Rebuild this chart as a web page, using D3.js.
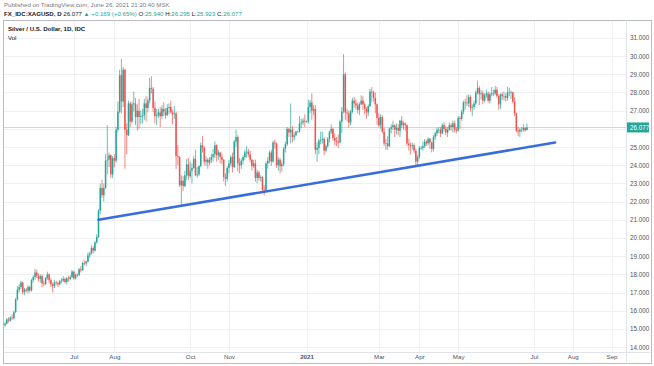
<!DOCTYPE html>
<html>
<head>
<meta charset="utf-8">
<script src="https://cdn.jsdelivr.net/npm/d3@7"></script>
<style>
body { margin: 0; background: #fff; }
svg { display: block; font-family: "Liberation Sans", Arial, sans-serif; }
</style>
</head>
<body>
<div id="main"></div>
<script>
//////////
// DATA //
//////////

// daily candles [open, high, low, close], one trading day per row, starting on firstDate
const firstDate = "2020-05-07"

const bars_2020_05 = [
  [15.20,15.40,15.12,15.30],[15.30,15.60,15.25,15.52],[15.52,15.65,15.35,15.45],[15.45,15.70,15.40,15.62],[15.62,15.80,15.50,15.58],
  [15.58,16.00,15.52,15.92],[15.92,16.70,15.88,16.62],[16.62,17.35,16.55,17.15],[17.15,17.45,17.00,17.30],[17.30,17.65,17.20,17.55],
  [17.55,17.60,16.90,17.02],[17.02,17.25,16.85,17.16],[17.16,17.25,17.00,17.10],[17.10,17.40,16.95,17.30],[17.30,17.38,17.00,17.12],
  [17.12,17.75,17.05,17.68],[17.68,17.95,17.55,17.85]
]
const bars_2020_06 = [
  [17.85,18.30,17.70,18.10],[18.10,18.25,17.80,17.92],[17.92,18.05,17.60,17.75],[17.75,18.00,17.55,17.90],[17.90,18.00,17.30,17.50],
  [17.50,17.65,17.35,17.48],[17.48,17.85,17.40,17.80],[17.80,18.15,17.70,18.00],[18.00,18.05,17.50,17.68],[17.68,17.80,17.30,17.45],
  [17.45,17.55,17.00,17.35],[17.35,17.70,17.25,17.55],[17.55,17.65,17.40,17.52],[17.52,17.60,17.30,17.45],[17.45,17.70,17.40,17.62],
  [17.62,17.80,17.50,17.65],[17.65,17.90,17.58,17.75],[17.75,17.82,17.50,17.58],[17.58,17.85,17.45,17.78],[17.78,17.92,17.60,17.75],
  [17.75,17.95,17.68,17.85],[17.85,18.25,17.80,18.15]
]
const bars_2020_07 = [
  [18.15,18.20,17.70,17.78],[17.78,18.05,17.72,17.98],[17.98,18.05,17.85,17.96],[17.96,18.35,17.90,18.28],[18.28,18.45,18.10,18.22],
  [18.22,18.70,18.20,18.62],[18.62,18.80,18.50,18.60],[18.60,18.75,18.45,18.70],[18.70,19.20,18.65,19.05],[19.05,19.25,18.90,19.15],
  [19.15,19.60,19.10,19.45],[19.45,19.55,19.15,19.30],[19.30,19.85,19.25,19.75],[19.75,20.20,19.70,20.05],[20.05,21.60,20.00,21.50],
  [21.50,23.00,21.30,22.75],[22.75,23.20,22.20,22.35],[22.35,23.00,22.00,22.75],[22.75,24.60,22.70,24.25],[24.25,26.20,23.50,24.30],
  [24.30,24.70,23.90,24.55],[24.55,24.60,23.30,23.50],[23.50,24.50,23.30,24.40]
]
const bars_2020_08 = [
  [24.40,24.60,23.90,24.25],[24.25,26.10,24.15,25.95],[25.95,27.50,25.80,26.95],[26.95,29.25,26.85,28.95],[28.95,29.85,26.85,27.50],
  [27.50,29.40,27.20,29.25],[29.25,29.30,23.80,25.95],[25.95,26.30,24.60,25.65],[25.65,27.55,25.60,27.40],[27.40,27.50,26.10,26.40],
  [26.40,27.50,26.30,27.35],[27.35,28.05,26.95,27.40],[27.40,27.70,26.20,26.65],[26.65,27.35,25.90,27.00],[27.00,27.65,26.00,26.65],
  [26.65,27.00,26.25,26.70],[26.70,27.10,26.30,26.75],[26.75,27.65,26.50,27.40],[27.40,27.80,26.40,27.15],[27.15,27.70,26.90,27.55],
  [27.55,28.80,27.40,28.25]
]
const bars_2020_09 = [
  [28.25,28.90,27.95,28.20],[28.20,28.30,26.90,27.15],[27.15,27.50,26.30,26.70],[26.70,27.10,26.20,26.75],[26.75,27.10,26.60,26.90],
  [26.90,27.20,26.10,26.70],[26.70,27.30,26.55,27.10],[27.10,27.45,26.70,26.95],[26.95,27.15,26.55,26.75],[26.75,27.35,26.70,27.15],
  [27.15,27.40,26.80,27.20],[27.20,27.55,26.85,26.90],[26.90,27.05,26.25,26.80],[26.80,27.25,26.55,26.85],[26.85,26.95,23.80,24.50],
  [24.50,25.10,24.00,24.45],[24.45,24.50,22.80,22.90],[22.90,23.45,21.80,23.15],[23.15,23.40,22.60,22.85],[22.85,23.70,22.80,23.45],
  [23.45,24.35,23.20,24.05],[24.05,24.40,23.20,23.40]
]
const bars_2020_10 = [
  [23.40,24.20,23.30,23.70],[23.70,24.10,23.00,23.85],[23.85,24.50,23.80,24.35],[24.35,24.85,23.40,23.45],[23.45,23.90,23.30,23.50],
  [23.50,24.00,23.40,23.95],[23.95,25.25,23.90,25.10],[25.10,25.60,24.70,24.95],[24.95,25.05,24.00,24.20],[24.20,24.50,23.95,24.30],
  [24.30,24.40,23.80,24.15],[24.15,24.45,24.00,24.30],[24.30,24.65,24.10,24.45],[24.45,24.90,24.20,24.60],[24.60,25.30,24.40,25.10],
  [25.10,25.15,24.20,24.55],[24.55,24.85,24.30,24.70],[24.70,24.75,24.10,24.45],[24.45,24.65,24.05,24.30],[24.30,24.35,23.10,23.35],
  [23.35,23.55,22.85,23.25],[23.25,23.95,23.10,23.85]
]
const bars_2020_11 = [
  [23.85,24.30,23.55,24.10],[24.10,24.55,23.95,24.45],[24.45,24.70,23.60,23.90],[23.90,25.40,23.85,25.30],[25.30,25.95,25.00,25.55],
  [25.55,25.65,23.65,24.10],[24.10,24.40,23.55,24.00],[24.00,24.35,23.80,24.25],[24.25,24.55,24.05,24.45],[24.45,24.85,24.30,24.70],
  [24.70,25.05,24.40,24.75],[24.75,24.90,24.45,24.60],[24.60,24.80,24.15,24.30],[24.30,24.35,23.70,23.95],[23.95,24.30,23.85,24.10],
  [24.10,24.30,23.10,23.30],[23.30,23.75,23.00,23.60],[23.60,23.70,23.15,23.30],[23.30,23.45,23.10,23.35],[23.35,23.40,22.55,22.65],
  [22.65,22.90,22.35,22.60]
]
const bars_2020_12 = [
  [22.60,24.20,22.55,24.10],[24.10,24.45,23.80,24.25],[24.25,24.80,24.10,24.70],[24.70,24.85,23.95,24.20],[24.20,25.35,24.15,25.25],
  [25.25,25.40,24.90,25.20],[25.20,25.25,23.85,24.00],[24.00,24.45,23.70,24.30],[24.30,24.40,23.55,23.95],[23.95,24.20,23.65,24.05],
  [24.05,25.00,23.95,24.90],[24.90,25.30,24.70,25.15],[25.15,26.10,25.05,26.00],[26.00,26.05,25.55,25.80],[25.80,27.40,25.20,25.95],
  [25.95,26.15,25.25,25.55],[25.55,25.80,25.35,25.65],[25.65,25.90,25.60,25.85],[25.85,25.90,25.80,25.85],[25.85,26.70,25.80,26.30],
  [26.30,26.55,26.05,26.35],[26.35,26.60,26.20,26.45],[26.45,26.80,26.10,26.40]
]
const bars_2021_01 = [
  [26.40,26.45,26.35,26.40],[26.40,27.60,26.30,27.20],[27.20,27.60,26.85,27.45],[27.45,27.95,26.50,27.00],[27.00,27.30,26.75,27.10],
  [27.10,27.30,24.60,24.85],[24.85,25.25,24.20,24.95],[24.95,25.45,24.60,25.35],[25.35,25.85,25.15,25.40],[25.40,25.85,25.20,25.45],
  [25.45,25.55,24.55,24.80],[24.80,25.15,24.70,25.05],[25.05,25.55,24.95,25.45],[25.45,25.90,25.25,25.85],[25.85,26.25,25.70,26.00],
  [26.00,26.05,25.35,25.50],[25.50,25.75,25.10,25.35],[25.35,25.55,25.05,25.30],[25.30,25.70,24.95,25.25],[25.25,26.50,25.20,26.40],
  [26.40,27.20,25.75,26.95]
]
const bars_2021_02 = [
  [26.95,30.10,26.85,29.00],[29.00,29.10,26.50,26.90],[26.90,27.10,26.40,26.85],[26.85,27.00,26.05,26.35],[26.35,27.05,26.20,26.95],
  [26.95,27.70,26.85,27.55],[27.55,27.75,27.15,27.40],[27.40,27.65,27.05,27.30],[27.30,27.45,26.85,27.05],[27.05,27.45,26.75,27.35],
  [27.35,27.85,27.30,27.55],[27.55,27.80,27.05,27.35],[27.35,27.45,26.80,27.10],[27.10,27.20,26.55,26.90],[26.90,27.35,26.70,27.25],
  [27.25,28.20,27.20,28.05],[28.05,28.30,27.45,28.00],[28.00,28.10,27.50,27.70],[27.70,28.00,26.85,27.35],[27.35,27.40,26.20,26.60]
]
const bars_2021_03 = [
  [26.60,26.85,26.10,26.20],[26.20,26.80,26.00,26.65],[26.65,26.75,25.75,25.85],[25.85,26.05,25.05,25.20],[25.20,25.45,24.85,25.20],
  [25.20,25.60,24.85,25.05],[25.05,26.05,25.00,26.00],[26.00,26.25,25.75,26.10],[26.10,26.45,25.95,26.20],[26.20,26.25,25.55,25.95],
  [25.95,26.30,25.70,26.05],[26.05,26.25,25.65,25.90],[25.90,26.50,25.55,26.45],[26.45,26.70,26.05,26.20],[26.20,26.40,25.95,26.30],
  [26.30,26.35,25.90,26.20],[26.20,26.25,25.05,25.20],[25.20,25.45,24.80,25.10],[25.10,25.25,24.60,25.05],[25.05,25.25,24.85,25.10],
  [25.10,25.20,24.65,24.80],[24.80,24.90,23.90,24.20],[24.20,24.55,23.95,24.45]
]
const bars_2021_04 = [
  [24.45,25.05,24.35,24.95],[24.95,25.05,24.85,24.95],[24.95,25.30,24.80,25.05],[25.05,25.45,24.95,25.30],[25.30,25.40,25.05,25.20],
  [25.20,25.55,25.10,25.45],[25.45,25.50,24.90,25.25],[25.25,25.30,24.70,24.90],[24.90,25.65,24.75,25.55],[25.55,25.85,25.40,25.75],
  [25.75,26.05,25.60,25.95],[25.95,26.10,25.75,25.95],[25.95,26.10,25.55,25.75],[25.75,26.30,25.70,26.20],[26.20,26.35,25.85,26.00],
  [26.00,26.15,25.65,25.80],[25.80,26.10,25.55,25.95],[25.95,26.35,25.90,26.20],[26.20,26.30,25.90,26.10],[26.10,26.45,25.80,26.30],
  [26.30,26.45,25.80,25.95],[25.95,26.10,25.75,25.90]
]
const bars_2021_05 = [
  [25.90,26.70,25.85,26.60],[26.60,26.70,26.00,26.55],[26.55,27.05,26.45,26.95],[26.95,27.55,26.80,27.45],[27.45,27.65,27.05,27.45],
  [27.45,27.85,27.25,27.40],[27.40,27.90,27.20,27.75],[27.75,27.85,26.95,27.15],[27.15,27.35,26.70,27.20],[27.20,27.55,27.05,27.40],
  [27.40,28.10,27.30,28.00],[28.00,28.65,27.90,28.25],[28.25,28.35,27.30,27.90],[27.90,28.15,27.60,27.95],[27.95,28.10,27.35,27.55],
  [27.55,27.95,27.45,27.85],[27.85,28.15,27.70,27.95],[27.95,28.05,27.45,27.55],[27.55,28.00,27.40,27.90],[27.90,28.30,27.80,27.95],
  [27.95,28.15,27.80,27.95]
]
const bars_2021_06 = [
  [27.95,28.35,27.85,28.15],[28.15,28.30,27.70,27.80],[27.80,27.90,27.05,27.35],[27.35,27.95,27.10,27.90],[27.90,28.00,27.60,27.80],
  [27.80,28.05,27.55,27.80],[27.80,27.95,27.50,27.70],[27.70,28.30,27.55,28.00],[28.00,28.25,27.80,28.00],[28.00,28.10,27.65,28.00],
  [28.00,28.05,27.40,27.50],[27.50,27.75,26.70,26.85],[26.85,26.90,25.80,25.90],[25.90,26.10,25.60,25.85],[25.85,26.05,25.55,25.95],
  [25.95,26.10,25.80,25.95],[25.95,26.25,25.85,26.05],[26.05,26.10,25.85,25.908],[25.940,26.295,25.923,26.077]
]

// price axis: grid on every dollar, the 26 label is covered by the last-price tag
const priceGrid = [14, 15, 16, 17, 18, 19, 20, 21, 22, 23, 24, 25, 26, 27, 28, 29, 30, 31]
const priceLabels = [14, 15, 16, 17, 18, 19, 20, 21, 22, 23, 24, 25, 27, 28, 29, 30, 31]
const lastPrice = 26.077

// time axis (first trading day of each labelled month)
const monthTickDates = ["2020-07-01", "2020-08-03", "2020-10-01", "2020-11-02", "2021-01-01", "2021-03-01",
                        "2021-04-01", "2021-05-03", "2021-07-01", "2021-08-02", "2021-09-01"]
const monthTickLabels = ["Jul", "Aug", "Oct", "Nov", "2021", "Mar", "Apr", "May", "Jul", "Aug", "Sep"]

// drawn trend line anchors
const trendDates = ["2020-07-21", "2021-07-19"]
const trendPrices = [21.0, 25.25]

const headerLine1 = "Published on TradingView.com, June 26, 2021 21:20:40 MSK"
const symbolName = "FX_IDC:XAGUSD, D"
const changeText = "\u25B2 +0.169 (+0.65%)"
const ohlcLabels = ["O:", "H:", "L:", "C:"]
const ohlcValues = ["25.940", "26.295", "25.923", "26.077"]
const paneTitle = "Silver / U.S. Dollar, 1D, IDC"


///////////
// SETUP //
///////////

const width = 654
const height = 366

const upColor = '#26a69a'
const downColor = '#ef5350'
const textDark = '#131722'
const textGray = '#50535e'
const gridColor = '#eef0f4'
const trendColor = '#3a6ddc'

const plot = {left: 4, right: 626, top: 21, bottom: 352}

let candles = [].concat(bars_2020_05, bars_2020_06, bars_2020_07, bars_2020_08, bars_2020_09, bars_2020_10,
  bars_2020_11, bars_2020_12, bars_2021_01, bars_2021_02, bars_2021_03, bars_2021_04, bars_2021_05, bars_2021_06)

// weekday calendar, running on past the last candle for the empty future space
let parse = d3.utcParse("%Y-%m-%d")
let fmt = d3.utcFormat("%Y-%m-%d")
let start = parse(firstDate)
let days = d3.utcDay.range(start, d3.utcDay.offset(start, 520)).filter(d => d.getUTCDay() % 6 != 0)
let dayIndex = new Map(days.map((d, i) => [fmt(d), i]))

let x = d3.scaleLinear()
  .domain([-0.6, 352.2])
  .range([plot.left, plot.right])

let y = d3.scaleLinear()
  .domain([13.73, 31.93])
  .range([plot.bottom, plot.top])


//////////
// DRAW //
//////////

let svg = d3.select("#main").append("svg")
  .attr("width", width)
  .attr("height", height)

svg.append("rect").attr("width", width).attr("height", height).attr("fill", "#fff")

svg.append("defs").append("clipPath").attr("id", "plotclip")
  .append("rect")
    .attr("x", plot.left).attr("y", plot.top)
    .attr("width", plot.right - plot.left).attr("height", plot.bottom - plot.top)

// grid
let grid = svg.append("g").attr("clip-path", "url(#plotclip)")
grid.selectAll("line.h").data(priceGrid).enter().append("line")
  .attr("x1", plot.left).attr("x2", plot.right)
  .attr("y1", d => Math.round(y(d)) + 0.5).attr("y2", d => Math.round(y(d)) + 0.5)
  .attr("stroke", gridColor)
grid.selectAll("line.v").data(monthTickDates).enter().append("line")
  .attr("x1", d => Math.round(x(dayIndex.get(d))) + 0.5).attr("x2", d => Math.round(x(dayIndex.get(d))) + 0.5)
  .attr("y1", plot.top).attr("y2", plot.bottom)
  .attr("stroke", gridColor)

// last price line
svg.append("line")
  .attr("x1", plot.left).attr("x2", plot.right)
  .attr("y1", Math.round(y(lastPrice)) + 0.5).attr("y2", Math.round(y(lastPrice)) + 0.5)
  .attr("stroke", "#ccd9d7")

// candles
let cg = svg.append("g").attr("clip-path", "url(#plotclip)")
let candle = cg.selectAll("g.candle").data(candles).enter().append("g")
  .attr("class", "candle")
  .attr("fill", d => d[3] >= d[0] ? upColor : downColor)
  .attr("stroke", d => d[3] >= d[0] ? upColor : downColor)

candle.append("line")
  .attr("x1", (d, i) => x(i)).attr("x2", (d, i) => x(i))
  .attr("y1", d => y(d[1])).attr("y2", d => y(d[2]))
  .attr("stroke-width", 0.7)
candle.append("rect")
  .attr("x", (d, i) => x(i) - 0.75)
  .attr("width", 1.5)
  .attr("y", d => y(Math.max(d[0], d[3])))
  .attr("height", d => Math.max(0.6, Math.abs(y(d[0]) - y(d[3]))))
  .attr("stroke", "none")

// trend line
svg.append("line")
  .attr("x1", x(dayIndex.get(trendDates[0]))).attr("y1", y(trendPrices[0]))
  .attr("x2", x(dayIndex.get(trendDates[1]))).attr("y2", y(trendPrices[1]))
  .attr("stroke", trendColor)
  .attr("stroke-width", 2.5)
  .attr("stroke-linecap", "round")

// frame
svg.append("rect")
  .attr("x", 3.5).attr("y", 20.5).attr("width", 648).attr("height", 343)
  .attr("fill", "none").attr("stroke", "#b9bcc4")
svg.append("line")
  .attr("x1", plot.right + 0.5).attr("x2", plot.right + 0.5).attr("y1", 20.5).attr("y2", 363.5)
  .attr("stroke", "#e0e3eb")
svg.append("line")
  .attr("x1", 3.5).attr("x2", 651.5).attr("y1", plot.bottom + 0.5).attr("y2", plot.bottom + 0.5)
  .attr("stroke", "#e0e3eb")

// price axis
let yAxis = svg.append("g")
  .attr("transform", `translate(${plot.right + 4},0)`)
  .call(d3.axisRight(y).tickValues(priceLabels).tickFormat(d3.format(".3f")).tickSize(0).tickPadding(0))
yAxis.select(".domain").remove()
yAxis.selectAll("text").attr("fill", textGray).attr("font-size", 6.3).attr("font-family", null)

let lastY = y(lastPrice)
svg.append("rect")
  .attr("x", plot.right + 1).attr("y", lastY - 5).attr("width", 22).attr("height", 10)
  .attr("fill", upColor)
svg.append("text")
  .attr("x", plot.right + 4).attr("y", lastY).attr("dy", "0.34em")
  .attr("font-size", 6.3).attr("fill", "#fff")
  .text(d3.format(".3f")(lastPrice))

// time axis
let xAxis = svg.append("g")
  .attr("transform", `translate(0,${plot.bottom})`)
  .call(d3.axisBottom(x)
    .tickValues(monthTickDates.map(d => dayIndex.get(d)))
    .tickFormat((d, i) => monthTickLabels[i])
    .tickSize(0).tickPadding(3))
xAxis.select(".domain").remove()
xAxis.selectAll("text")
  .attr("fill", textGray).attr("font-size", 6.2).attr("font-family", null)
  .attr("font-weight", (d, i) => /^\d+$/.test(monthTickLabels[i]) ? "bold" : null)

// header
svg.append("text").attr("x", 4).attr("y", 7).attr("font-size", 6.1).attr("fill", "#787b86").text(headerLine1)

let h2 = svg.append("text").attr("x", 4).attr("y", 16).attr("font-size", 6.1)
h2.append("tspan").attr("font-weight", "bold").attr("fill", textDark).text(symbolName + " ")
h2.append("tspan").attr("fill", textDark).text(d3.format(".3f")(lastPrice) + " ")
h2.append("tspan").attr("fill", upColor).text(changeText)
ohlcLabels.forEach((lab, i) => {
  h2.append("tspan").attr("fill", textDark).text(" " + lab)
  h2.append("tspan").attr("fill", upColor).text(ohlcValues[i])
})

svg.append("text").attr("x", 8).attr("y", 31).attr("font-size", 6.1)
  .attr("font-weight", "bold").attr("fill", textDark).text(paneTitle)
svg.append("text").attr("x", 8).attr("y", 39.5).attr("font-size", 6.1)
  .attr("fill", textDark).text("Vol")
</script>
</body>
</html>
